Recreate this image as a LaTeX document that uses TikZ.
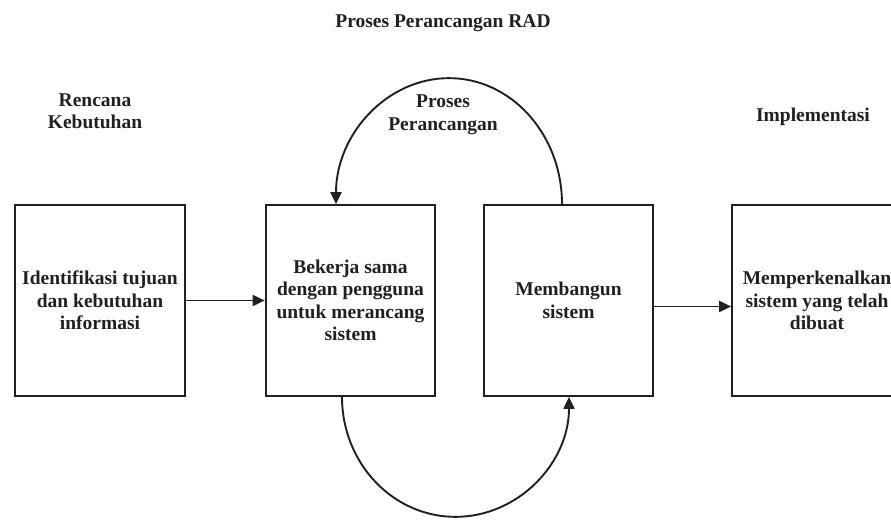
\documentclass[tikz,border=0pt]{standalone}
\usepackage{fontspec}
\setmainfont{Liberation Serif}
\usetikzlibrary{arrows.meta}
\definecolor{ink}{RGB}{35,31,32}
\tikzset{
  lbl/.style={align=center,text=ink,font=\fontsize{19.5}{22.5}\selectfont\bfseries},
  box/.style={lbl,draw=ink,line width=2.2pt,minimum width=169.5pt,minimum height=190.5pt},
  link/.style={draw=ink,line width=1.9pt,-{Triangle[length=12pt,width=11pt]}}
}
\begin{document}
\begin{tikzpicture}[x=1pt,y=1pt]
                \clip (0,0) rectangle (891,520);
                \node[lbl] (T) at (443,497) {Proses Perancangan RAD};
                \node[lbl] (R) at (95,409) {Rencana\\Kebutuhan};
                \node[lbl] (P) at (443,405) {Proses\\Perancangan};
                \node[lbl] (Im) at (813,403) {Implementasi};
                \node[box] (I) at (100,219.5) {Identifikasi tujuan\\dan kebutuhan\\informasi};
                \node[box] (B) at (350.5,219.5) {Bekerja sama\\dengan pengguna\\untuk merancang\\sistem};
                \node[box] (M) at (568.5,219.5) {Membangun\\sistem};
                \node[box] (K) at (817,219.5) {Memperkenalkan\\sistem yang telah\\dibuat};
                \draw[link] (I.east) -- (B.west);
                \draw[link] ([yshift=-6pt]M.east) -- ([yshift=-6pt]K.west);
                \draw[link] ([xshift=-6.5pt]M.north) arc[start angle=0,end angle=180,x radius=113,y radius=126];
                \draw[link] ([xshift=-8.5pt]B.south) arc[start angle=180,end angle=360,x radius=113.5,y radius=120];
            \end{tikzpicture}
\end{document}
